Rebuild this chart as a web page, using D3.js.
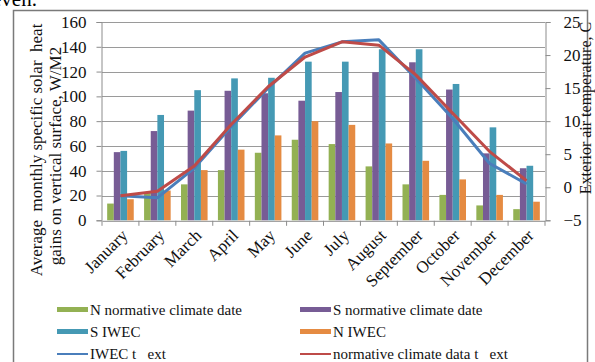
<!DOCTYPE html>
<html>
<head>
<meta charset="utf-8">
<style>
  body { margin: 0; background: #fff; }
  svg { display: block; font-family: "Liberation Serif", "Times New Roman", serif; }
  text { white-space: pre; }
</style>
</head>
<body>
<svg width="595" height="362"></svg>
<script src="https://cdnjs.cloudflare.com/ajax/libs/d3/7.8.5/d3.min.js"></script>
<script>

// months on the category axis
var months = ["January", "February", "March", "April", "May", "June",
              "July", "August", "September", "October", "November", "December"];

// bar series, W/m2 (left axis)
var nNormative = [13.5, 22, 29, 40.5, 54.5, 65, 61.5, 43.5, 29, 20.5, 12, 9];
var sNormative = [55, 72, 88.5, 104.5, 102.5, 96.5, 103.5, 119.5, 127.5, 105.5, 54, 42];
var sIwec      = [56, 85, 105, 114.5, 115, 128, 128, 138, 138, 110, 75, 44];
var nIwec      = [17, 24, 40.5, 57, 68.5, 80, 77, 62, 48, 33, 20.5, 15];

// line series, exterior temperature C (right axis)
var iwecText = [-1.3, -1.6, 2.9, 9.2, 15, 20.3, 22, 22.3, 16.5, 10.4, 3.6, 0.5];
var normText = [-1.3, -0.6, 3.2, 9.5, 15.2, 19.7, 22, 21.5, 17, 11.2, 5.4, 1.0];

var leftTicks = [0, 20, 40, 60, 80, 100, 120, 140, 160];
var rightTicks = [-5, 0, 5, 10, 15, 20, 25];

var barSeries = [
  { name: "N normative climate date", values: nNormative, color: "#93b153" },
  { name: "S normative climate date", values: sNormative, color: "#775c95" },
  { name: "S IWEC", values: sIwec, color: "#4599b4" },
  { name: "N IWEC", values: nIwec, color: "#e58b42" }
];
var lineSeries = [
  { name: "IWEC t   ext", values: iwecText, color: "#4a7ebb" },
  { name: "normative climate data t   ext", values: normText, color: "#be4b48" }
];

var svg = d3.select("svg");

// bit of the document text above the chart
svg.append("text")
    .attr("x", -8).attr("y", 6)
    .style("font-size", "21px")
    .text("even.");

// frame round the chart (bottom is off the picture)
svg.append("path")
    .attr("d", "M13.5,362V10.5H587.5V362")
    .attr("fill", "none")
    .attr("stroke", "#7a7a7a")
    .attr("stroke-width", 1.5);

var plotL = 102, plotR = 545, plotT = 22, plotB = 220.3;

var x = d3.scaleBand().domain(months).range([plotL, plotR]);
var bw = x.bandwidth();
var x1 = d3.scaleBand()
    .domain(barSeries.map(function(d) { return d.name; }))
    .range([bw * 0.14, bw * 0.86]);

var y = d3.scaleLinear().domain([0, 160]).range([plotB, plotT]);
var y2 = d3.scaleLinear().domain([-5, 25]).range([plotB, plotT]);

// gridlines from the left axis
svg.append("g")
  .selectAll("line")
  .data(leftTicks.slice(1))
  .enter().append("line")
    .attr("x1", plotL).attr("x2", plotR)
    .attr("y1", function(d) { return Math.round(y(d)) + 0.5; })
    .attr("y2", function(d) { return Math.round(y(d)) + 0.5; })
    .attr("stroke", "#9a9a9a");

// bars
var groups = svg.append("g")
  .selectAll("g")
  .data(barSeries)
  .enter().append("g")
    .attr("fill", function(d) { return d.color; });

groups.selectAll("rect")
  .data(function(s) { return s.values.map(function(v, i) { return { s: s.name, m: months[i], v: v }; }); })
  .enter().append("rect")
    .attr("x", function(d) { return x(d.m) + x1(d.s); })
    .attr("width", x1.bandwidth())
    .attr("y", function(d) { return y(d.v); })
    .attr("height", function(d) { return plotB - y(d.v); });

// temperature lines
var line = d3.line()
    .x(function(d, i) { return x(months[i]) + bw / 2; })
    .y(function(d) { return y2(d); });

svg.append("g")
  .selectAll("path")
  .data(lineSeries)
  .enter().append("path")
    .attr("d", function(d) { return line(d.values); })
    .attr("fill", "none")
    .attr("stroke", function(d) { return d.color; })
    .attr("stroke-width", 3)
    .attr("stroke-linejoin", "round");

// axes
var yAxisL = svg.append("g")
    .attr("transform", "translate(" + (plotL - 0.5) + ",0)")
    .call(d3.axisLeft(y).tickValues(leftTicks).tickSize(5).tickPadding(10));

var yAxisR = svg.append("g")
    .attr("transform", "translate(" + (plotR + 0.5) + ",0)")
    .call(d3.axisRight(y2).tickValues(rightTicks).tickSize(5).tickPadding(13));

var xAxis = svg.append("g")
    .attr("transform", "translate(0," + (plotB + 0.5) + ")")
    .call(d3.axisBottom(x).tickSize(0).tickFormat(""));

// category tick marks sit on the band boundaries
xAxis.selectAll(".bound")
  .data(d3.range(months.length + 1))
  .enter().append("line")
    .attr("x1", function(i) { return plotL + i * bw; })
    .attr("x2", function(i) { return plotL + i * bw; })
    .attr("y1", 0).attr("y2", 5)
    .attr("stroke", "#8c8c8c");

[yAxisL, yAxisR, xAxis].forEach(function(g) {
  g.select(".domain").attr("stroke", "#8c8c8c");
  g.selectAll(".tick line").attr("stroke", "#8c8c8c");
  g.selectAll("text")
      .style("font-family", "Liberation Serif, serif")
      .style("font-size", "17px")
      .attr("fill", "#111");
});

// month labels, slanted
svg.append("g")
  .selectAll("text")
  .data(months)
  .enter().append("text")
    .attr("transform", function(d) {
      return "translate(" + (x(d) + bw / 2 + 4) + "," + (plotB + 12) + ") rotate(-45)";
    })
    .attr("text-anchor", "end")
    .attr("dy", "0.35em")
    .style("font-size", "17px")
    .attr("fill", "#111")
    .text(function(d) { return d; });

// axis titles
var titleL = svg.append("text")
    .attr("transform", "translate(42,150) rotate(-90)")
    .attr("text-anchor", "middle")
    .style("font-size", "17px")
    .attr("fill", "#111");
titleL.append("tspan").attr("x", 0).attr("y", 0).text("Average  monthly specific solar  heat");
titleL.append("tspan").attr("x", -6).attr("y", 19).text("gains on vertical surface, W/M2");

svg.append("text")
    .attr("transform", "translate(591,108) rotate(-90)")
    .attr("text-anchor", "middle")
    .style("font-size", "16px")
    .attr("fill", "#111")
    .text("Exterior air temperature, C");

// legend, two columns
var legendItems = barSeries.map(function(d) { return { name: d.name, color: d.color, bar: true }; })
    .concat(lineSeries.map(function(d) { return { name: d.name, color: d.color, bar: false }; }));

var legend = svg.append("g")
  .selectAll("g")
  .data(legendItems)
  .enter().append("g")
    .attr("transform", function(d, i) {
      return "translate(" + (i % 2 ? 300 : 57) + "," + (310 + Math.floor(i / 2) * 22) + ")";
    });

legend.append("rect")
    .attr("x", 0).attr("width", 31)
    .attr("y", function(d) { return d.bar ? -3 : -1; })
    .attr("height", function(d) { return d.bar ? 5 : 2; })
    .attr("fill", function(d) { return d.color; });

legend.append("text")
    .attr("x", 33)
    .attr("dy", "0.35em")
    .style("font-size", "15px")
    .attr("fill", "#111")
    .text(function(d) { return d.name; });

</script>
</body>
</html>
